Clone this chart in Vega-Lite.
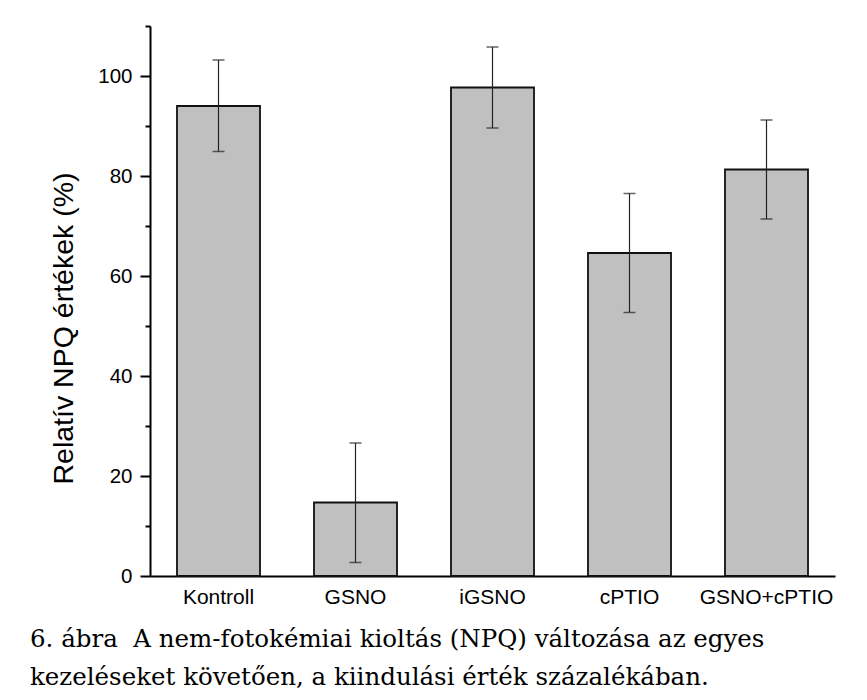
{
  "$schema": "https://vega.github.io/schema/vega-lite/v6.json",
  "autosize": {"type": "none"},
  "padding": {"left": 150, "top": 26, "right": 32, "bottom": 124},
  "width": 685,
  "height": 550,
  "background": "white",
  "config": {
    "view": {"stroke": null},
    "font": "Liberation Sans",
    "axis": {"labelColor": "black", "titleColor": "black", "domainColor": "black", "tickColor": "black", "grid": false}
  },
  "title": {
    "text": ["6. ábra\u00a0 A nem-fotokémiai kioltás (NPQ) változása az egyes", "kezeléseket követően, a kiindulási érték százalékában."],
    "orient": "bottom",
    "anchor": "start",
    "frame": "group",
    "dx": -120,
    "offset": 21,
    "font": "DejaVu Serif",
    "fontSize": 24.5,
    "fontWeight": "normal",
    "lineHeight": 38,
    "color": "black"
  },
  "data": {
    "values": [
      {"group": "Kontroll", "value": 94.0, "lo": 84.9, "hi": 103.2},
      {"group": "GSNO", "value": 14.7, "lo": 2.7, "hi": 26.6},
      {"group": "iGSNO", "value": 97.7, "lo": 89.6, "hi": 105.8},
      {"group": "cPTIO", "value": 64.6, "lo": 52.7, "hi": 76.5},
      {"group": "GSNO+cPTIO", "value": 81.3, "lo": 71.4, "hi": 91.2}
    ]
  },
  "encoding": {
    "x": {
      "field": "group",
      "type": "nominal",
      "sort": null,
      "scale": {"paddingInner": 0.394, "paddingOuter": 0.197},
      "axis": {
        "title": null,
        "labelAngle": 0,
        "labelFontSize": 21,
        "labelPadding": 10,
        "ticks": false,
        "domainWidth": 2
      }
    }
  },
  "layer": [
    {
      "mark": {"type": "bar", "color": "#c0c0c0", "stroke": "#111111", "strokeWidth": 1.8},
      "encoding": {
        "y": {
          "field": "value",
          "type": "quantitative",
          "scale": {"domain": [0, 110], "nice": false, "zero": true},
          "axis": {
            "title": "Relatív NPQ értékek (%)",
            "titleFontSize": 28.5,
            "titleFontWeight": "normal",
            "titlePadding": 19,
            "titleY": 302,
            "values": [0, 10, 20, 30, 40, 50, 60, 70, 80, 90, 100, 110],
            "labelExpr": "datum.value % 20 === 0 && datum.value <= 100 ? datum.label : ''",
            "labelFontSize": 20.5,
            "labelPadding": 8,
            "tickSize": {"condition": {"test": "datum.value % 20 === 0", "value": 10}, "value": 5},
            "tickWidth": 2,
            "domainWidth": 2
          }
        }
      }
    },
    {
      "mark": {"type": "rule", "color": "#222222", "strokeWidth": 1.2},
      "encoding": {
        "y": {"field": "lo", "type": "quantitative"},
        "y2": {"field": "hi"}
      }
    },
    {
      "mark": {"type": "tick", "color": "#222222", "size": 12, "thickness": 1.5, "orient": "horizontal"},
      "encoding": {"y": {"field": "lo", "type": "quantitative"}}
    },
    {
      "mark": {"type": "tick", "color": "#222222", "size": 12, "thickness": 1.5, "orient": "horizontal"},
      "encoding": {"y": {"field": "hi", "type": "quantitative"}}
    }
  ]
}
